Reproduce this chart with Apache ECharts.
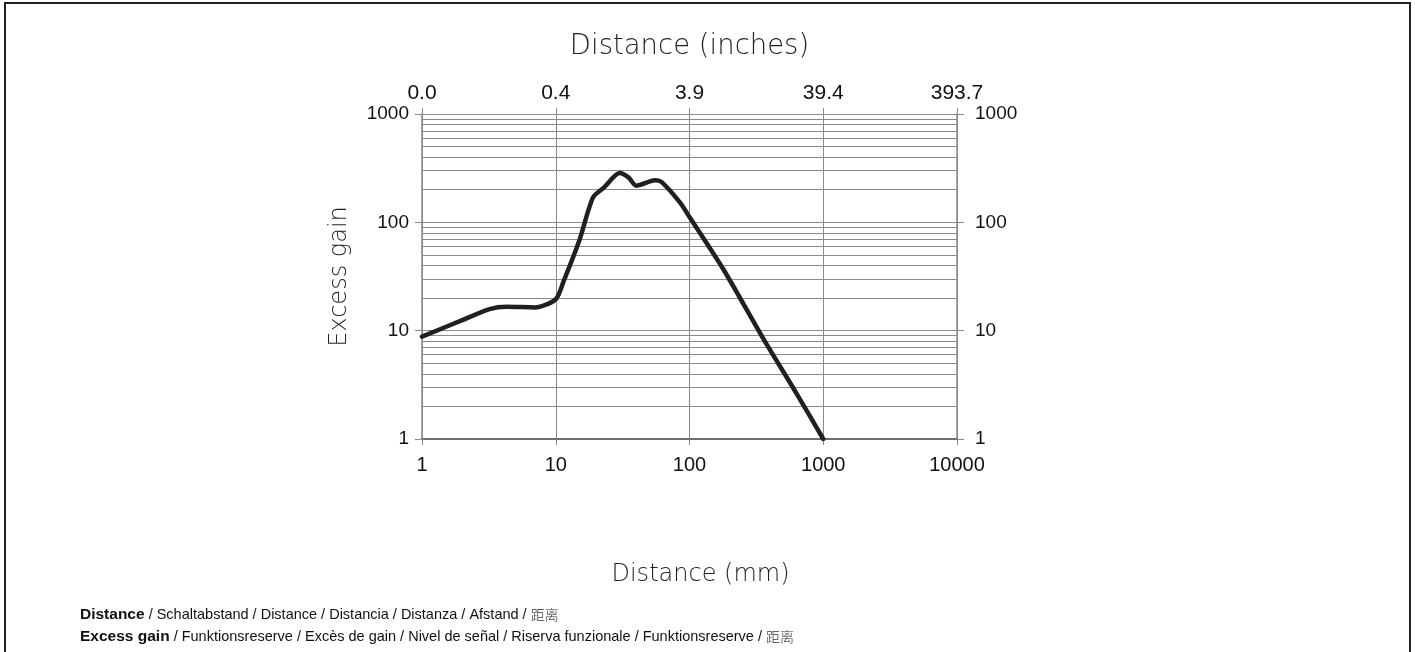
<!DOCTYPE html>
<html>
<head>
<meta charset="utf-8">
<script src="https://cdn.jsdelivr.net/npm/echarts@6/dist/echarts.min.js"></script>
<style>
html,body{margin:0;padding:0;background:#fff;}
#chart{width:1415px;height:652px;}
</style>
</head>
<body>
<div id="chart"></div>
<script>
// Distance (mm) and excess gain
const distanceMm = [1, 2, 3.2, 4.3, 7, 10, 11.5, 15, 19, 23, 30, 35, 40, 55, 62, 85, 100, 180, 357, 635, 1000];
const excessGain = [8.8, 12.5, 15.8, 16.6, 16.4, 19.5, 29, 68, 170, 210, 285, 260, 218, 245, 235, 152, 112, 36.5, 8.4, 2.6, 1];
const bottomTickLabels = ['1', '10', '100', '1000', '10000'];
const topTickLabels = ['0.0', '0.4', '3.9', '39.4', '393.7'];
const gainTickLabels = ['1', '10', '100', '1000'];
const minorGainLines = [2,3,4,5,6,7,8,9,20,30,40,50,60,70,80,90,200,300,400,500,600,700,800,900];
const footerLine1 = ['Distance', ' / Schaltabstand / Distance / Distancia / Distanza / Afstand / ', '距离'];
const footerLine2 = ['Excess gain', ' / Funktionsreserve / Excès de gain / Nivel de señal / Riserva funzionale / Funktionsreserve / ', '距离'];

const chart = echarts.init(document.getElementById('chart'), null, {renderer: 'canvas'});
const gridColor = '#8a8a8a';
const labelFont = 'Liberation Sans, Arial, Helvetica, sans-serif';
const titleFont = 'DejaVu Sans, Verdana, sans-serif';

function labelIndex(v) { return Math.round(Math.log10(v)); }

const footerRich = {
  b: {fontFamily: labelFont, fontWeight: 'bold', fontSize: 15.5, fill: '#111'},
  n: {fontFamily: labelFont, fontSize: 14.5, fill: '#111'},
  c: {fontFamily: 'Noto Sans CJK SC, sans-serif', fontWeight: 300, fontSize: 14, fill: '#333'}
};

const option = {
  backgroundColor: '#fff',
  animation: false,
  grid: {left: 422, right: 458, top: 114, bottom: 213, containLabel: false},
  xAxis: [
    {
      type: 'log', logBase: 10, min: 1, max: 10000, position: 'bottom',
      name: 'Distance (mm)', nameLocation: 'middle', nameGap: 124,
      nameTextStyle: {fontFamily: titleFont, fontSize: 24, fontWeight: 200, color: '#231f20', padding: [0, 0, 0, 22]},
      axisLine: {show: true, lineStyle: {color: '#6f6f6f', width: 2}},
      axisTick: {show: true, length: 6, lineStyle: {color: gridColor, width: 1}},
      axisLabel: {margin: 16, fontFamily: labelFont, fontSize: 20, color: '#111',
        formatter: v => bottomTickLabels[labelIndex(v)]},
      splitLine: {show: true, lineStyle: {color: gridColor, width: 1}}
    },
    {
      type: 'log', logBase: 10, min: 1, max: 10000, position: 'top',
      name: 'Distance (inches)', nameLocation: 'middle', nameGap: 53,
      nameTextStyle: {fontFamily: titleFont, fontSize: 27.5, fontWeight: 200, color: '#231f20'},
      axisLine: {show: true, lineStyle: {color: gridColor, width: 1}},
      axisTick: {show: true, length: 6, lineStyle: {color: gridColor, width: 1}},
      axisLabel: {margin: 10, fontFamily: labelFont, fontSize: 21, color: '#111',
        formatter: v => topTickLabels[labelIndex(v)]},
      splitLine: {show: false}
    }
  ],
  yAxis: [
    {
      type: 'log', logBase: 10, min: 1, max: 1000, position: 'left',
      name: 'Excess gain', nameLocation: 'middle', nameGap: 70, nameRotate: 90,
      nameTextStyle: {fontFamily: titleFont, fontSize: 24, fontWeight: 200, color: '#231f20'},
      axisLine: {show: true, lineStyle: {color: gridColor, width: 1.5}},
      axisTick: {show: true, length: 7, lineStyle: {color: gridColor, width: 1}},
      axisLabel: {margin: 13, fontFamily: labelFont, fontSize: 19, color: '#111',
        formatter: v => gainTickLabels[labelIndex(v)]},
      splitLine: {show: true, lineStyle: {color: gridColor, width: 1}}
    },
    {
      type: 'log', logBase: 10, min: 1, max: 1000, position: 'right',
      axisLine: {show: true, lineStyle: {color: gridColor, width: 1.5}},
      axisTick: {show: true, length: 7, lineStyle: {color: gridColor, width: 1}},
      axisLabel: {margin: 18, fontFamily: labelFont, fontSize: 19, color: '#111',
        formatter: v => gainTickLabels[labelIndex(v)]},
      splitLine: {show: false}
    }
  ],
  series: [
    {
      type: 'line', xAxisIndex: 0, yAxisIndex: 0,
      data: distanceMm.map((d, i) => [d, excessGain[i]]),
      smooth: 0.25, showSymbol: false, symbol: 'none',
      lineStyle: {color: '#231f20', width: 4.5, cap: 'round', join: 'round'},
      z: 5,
      markLine: {
        silent: true, symbol: ['none', 'none'], animation: false,
        label: {show: false},
        lineStyle: {color: gridColor, width: 1, type: 'solid'},
        data: minorGainLines.map(v => ({yAxis: v}))
      }
    }
  ],
  graphic: [
    {type: 'rect', shape: {x: 5, y: 3, width: 1405, height: 700},
      style: {fill: 'none', stroke: '#222', lineWidth: 2}, silent: true},
    {type: 'text', left: 80, top: 607,
      style: {text: '{b|' + footerLine1[0] + '}{n|' + footerLine1[1] + '}{c|' + footerLine1[2] + '}', rich: footerRich}},
    {type: 'text', left: 80, top: 629,
      style: {text: '{b|' + footerLine2[0] + '}{n|' + footerLine2[1] + '}{c|' + footerLine2[2] + '}', rich: footerRich}}
  ]
};
chart.setOption(option);
</script>
</body>
</html>
